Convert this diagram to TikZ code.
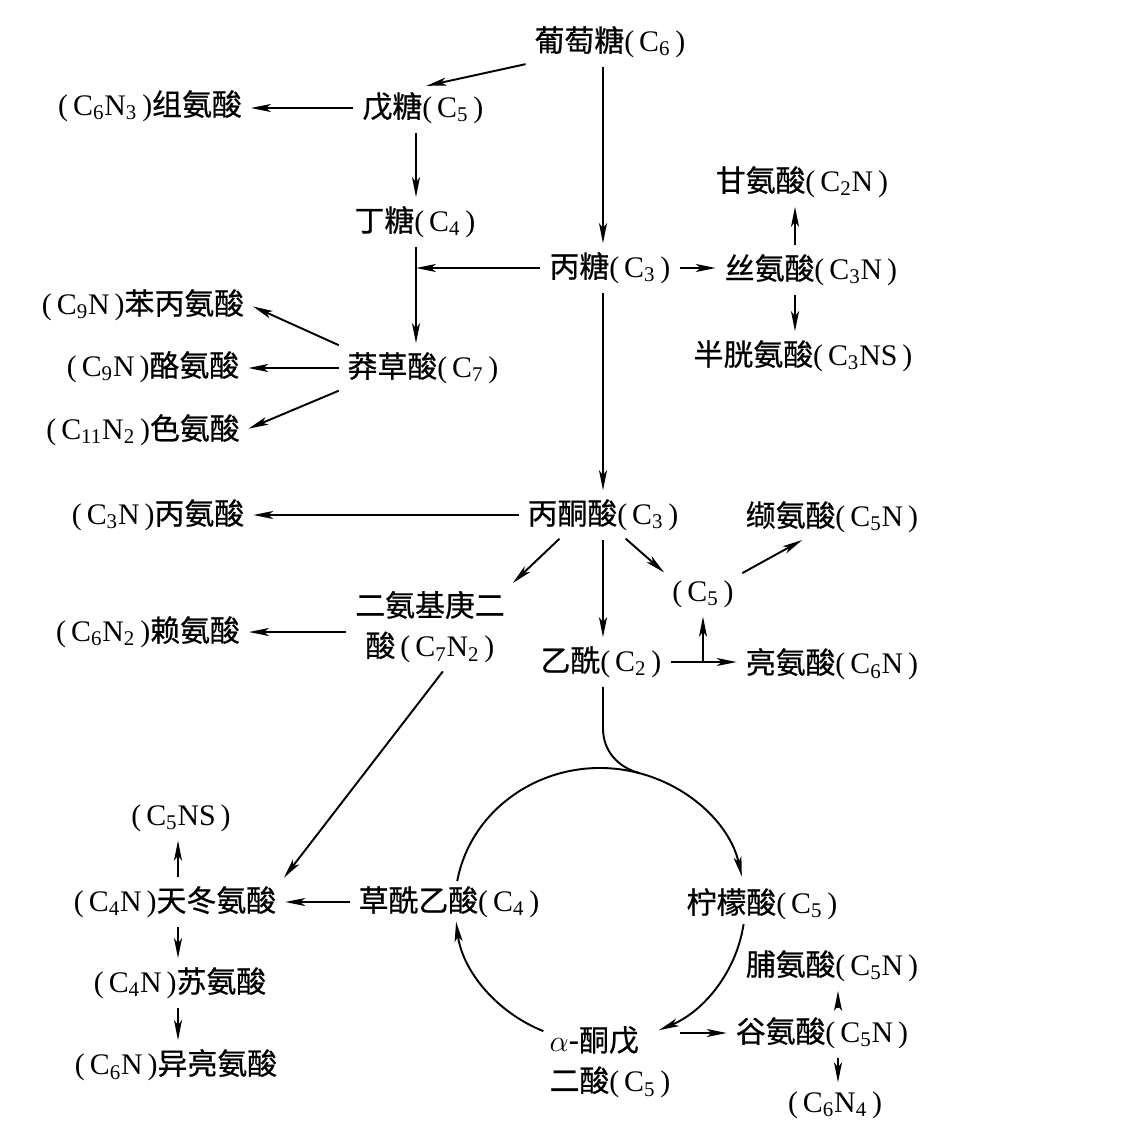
\documentclass[tikz,border=0pt]{standalone}
\usepackage{fontspec}
\setmainfont{Noto Sans CJK SC}[FakeBold=0.7]
\newfontfamily\lat{Liberation Serif}
\usetikzlibrary{arrows.meta,calc}
\newcommand\sbs[1]{\textsubscript{#1}}
\newcommand\fm[1]{{\lat(\,#1\,)}}

\begin{document}
\begin{tikzpicture}[x=0.02cm,y=0.02cm,
  lbl/.style={inner sep=3pt,font=\fontsize{17}{23}\selectfont},
  flow/.style={-{Stealth[length=4mm,width=1.6mm,inset=1mm]},line width=1.1pt,shorten <=2pt,shorten >=2pt},
  ring/.style={flow,shorten <=0pt,shorten >=0pt}]

\useasboundingbox[fill=white] (0,0) rectangle (1146,-1126);

% guide lines
\coordinate (sp) at (603,0);
\coordinate (lx) at (416,0);
\coordinate (gx) at (795,0);
\coordinate (ax) at (178,0);
\coordinate (gx2) at (838,0);

\node[lbl] (glu) at (610,-42) {葡萄糖\fm{C\sbs{6}}};
\node[lbl] (pent) at (423,-108) {戊糖\fm{C\sbs{5}}};
\node[lbl] (his) at (150,-106) {\fm{C\sbs{6}N\sbs{3}}组氨酸};
\node[lbl] (tet) at (415,-222) {丁糖\fm{C\sbs{4}}};
\node[lbl] (tri) at (610,-268) {丙糖\fm{C\sbs{3}}};
\node[lbl] (ser) at (811,-270) {丝氨酸\fm{C\sbs{3}N}};
\node[lbl] (gly) at (802,-182) {甘氨酸\fm{C\sbs{2}N}};
\node[lbl] (cys) at (803,-356) {半胱氨酸\fm{C\sbs{3}NS}};
\node[lbl] (phe) at (143,-305) {\fm{C\sbs{9}N}苯丙氨酸};
\node[lbl] (shk) at (423,-368) {莽草酸\fm{C\sbs{7}}};
\node[lbl] (tyr) at (153,-367) {\fm{C\sbs{9}N}酪氨酸};
\node[lbl] (trp) at (143,-430) {\fm{C\sbs{11}N\sbs{2}}色氨酸};
\node[lbl] (pyr) at (603,-515) {丙酮酸\fm{C\sbs{3}}};
\node[lbl] (ala) at (158,-515) {\fm{C\sbs{3}N}丙氨酸};
\node[lbl] (val) at (832,-517) {缬氨酸\fm{C\sbs{5}N}};
\node[lbl] (c5) at (703,-594) {\fm{C\sbs{5}}};
\node[lbl,align=center] (dap) at (430,-627) {二氨基庚二\\酸\,\fm{C\sbs{7}N\sbs{2}}};
\node[lbl] (lys) at (148,-632) {\fm{C\sbs{6}N\sbs{2}}赖氨酸};
\node[lbl] (acc) at (601,-662) {乙酰\fm{C\sbs{2}}};
\node[lbl] (leu) at (832,-664) {亮氨酸\fm{C\sbs{6}N}};
\node[lbl] (c5ns) at (181,-818) {\fm{C\sbs{5}NS}};
\node[lbl] (asp) at (175,-902) {\fm{C\sbs{4}N}天冬氨酸};
\node[lbl] (thr) at (180,-983) {\fm{C\sbs{4}N}苏氨酸};
\node[lbl] (ile) at (176,-1065) {\fm{C\sbs{6}N}异亮氨酸};
\node[lbl] (oaa) at (449,-902) {草酰乙酸\fm{C\sbs{4}}};
\node[lbl] (cit) at (762,-904) {柠檬酸\fm{C\sbs{5}}};
\node[lbl] (pro) at (832,-966) {脯氨酸\fm{C\sbs{5}N}};
\node[lbl] (glt) at (822,-1033) {谷氨酸\fm{C\sbs{5}N}};
\node[lbl] (c6n4) at (835,-1105) {\fm{C\sbs{6}N\sbs{4}}};
\node[lbl,align=left] (akg) at (610,-1062) {$\alpha$-酮戊\\二酸\fm{C\sbs{5}}};

% sugars
\draw[flow] (glu.south west) -- (pent.north);
\draw[flow] (glu.south -| sp) -- (tri.north -| sp);
\draw[flow] (pent.west) -- (pent.west -| his.east);
\draw[flow] (pent.south -| lx) -- (tet.north -| lx);
\draw[flow] (tet.south -| lx) -- (shk.north -| lx);
\draw[flow,shorten >=0pt] (tri.west) -- (tri.west -| lx);
\draw[flow] (tri.east) -- (tri.east -| ser.west);
\draw[flow] (ser.north -| gx) -- (gly.south -| gx);
\draw[flow] (ser.south -| gx) -- (cys.north -| gx);
\draw[flow] (shk.west) -- (shk.west -| tyr.east);
\foreach \t/\s in {phe/north west, trp/south west}
  \draw[flow] (shk.\s) -- (\t.east);

% pyruvate
\draw[flow] (tri.south -| sp) -- (pyr.north -| sp);
\draw[flow] (pyr.west) -- (ala.east);
\draw[flow] ([xshift=0.8cm]pyr.south west) -- (dap.north east);
\draw[flow] (pyr.south -| sp) -- (acc.north -| sp);
\draw[flow] ([xshift=0.4cm]pyr.south) -- (c5.north west);
\draw[flow] (c5.north east) -- ([xshift=1.3cm]val.south west);
\draw[flow] (acc.east) -- (acc.east -| leu.west);
\coordinate (br) at (acc.east -| c5);
\draw[flow,shorten <=0pt] (br) -- (c5.south);
\draw[flow] (dap.west |- lys.east) -- (lys.east);
\draw[flow] ([xshift=0.3cm]dap.south) -- (asp.north east);

% aspartate family
\draw[flow] (oaa.west) -- (asp.east);
\draw[flow] (asp.north -| ax) -- (c5ns.south -| ax);
\draw[flow] (asp.south -| ax) -- (thr.north -| ax);
\draw[flow] (thr.south -| ax) -- (ile.north -| ax);

% cycle
\coordinate (cc) at (600,-905);
\coordinate (r1) at ($(cc)+(170:145 and 137)$);
\coordinate (r2) at ($(cc)+(-8:145 and 137)$);
\coordinate (r3) at ($(cc)+(247:145 and 137)$);
\coordinate (mg) at ($(cc)+(74:145 and 137)$);
\draw[ring] (r1) arc[start angle=170,end angle=12,x radius=145,y radius=137];
\draw[ring] (r2) arc[start angle=-8,end angle=-66,x radius=145,y radius=137];
\draw[ring] (r3) arc[start angle=247,end angle=187,x radius=145,y radius=137];
\draw[line width=1.1pt,shorten <=2pt] (acc.south -| sp) -- ++(0,-45) to[out=-90,in=165] (mg);

% glutamate family
\draw[flow] (glt.west -| akg.east) -- (glt.west);
\draw[flow] (glt.north -| gx2) -- (pro.south -| gx2);
\draw[flow] (glt.south -| gx2) -- (c6n4.north -| gx2);
\end{tikzpicture}
\end{document}
